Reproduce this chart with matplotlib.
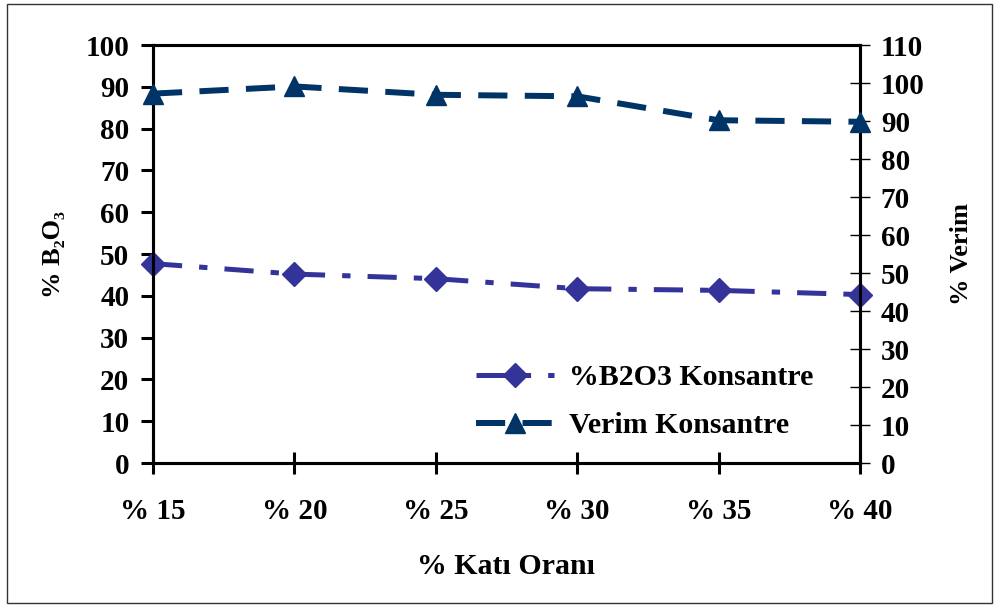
import matplotlib.pyplot as plt
from matplotlib.patches import Rectangle

plt.rcParams['font.family'] = ['Liberation Serif', 'DejaVu Serif']
plt.rcParams['font.weight'] = 'bold'
plt.rcParams['lines.scale_dashes'] = False

categories = ["% 15", "% 20", "% 25", "% 30", "% 35", "% 40"]
b2o3 = [47.7, 45.2, 44.1, 41.7, 41.3, 40.3]
verim = [97.2, 99.1, 96.9, 96.5, 90.2, 89.8]

fig = plt.figure(figsize=(9.98, 6.05), dpi=100)
ax = fig.add_axes([0.1533, 0.2347, 0.7084, 0.6909])
ax2 = ax.twinx()

x = range(len(categories))
l1, = ax.plot(x, b2o3, color="#333399", lw=3.6, marker="D", markersize=12,
              dashes=(21, 12.3, 6, 12.3), dash_capstyle="butt",
              label="%B2O3 Konsantre", clip_on=False, zorder=3)
l2, = ax2.plot(x, verim, color="#003366", lw=4.3, marker="^", markersize=15,
               dashes=(21, 12.5), dash_capstyle="butt",
               label="Verim Konsantre", clip_on=False, zorder=3)

ax.set_xlim(0, len(categories) - 1)
ax.set_ylim(0, 100)
ax.set_yticks(range(0, 101, 10))
ax2.set_ylim(0, 110)
ax2.set_yticks(range(0, 111, 10))
ax.set_xticks(list(x))
ax.set_xticklabels(categories)

for a in (ax, ax2):
    for s in a.spines.values():
        s.set_linewidth(2.2)

ax.tick_params(axis="y", direction="out", length=9, width=2.2, labelsize=21, pad=8)
ax.tick_params(axis="x", direction="inout", length=16, width=2.2, labelsize=21, pad=17)
ax2.tick_params(axis="y", direction="inout", length=14, width=1, labelsize=21, pad=8)

ax.set_xlabel("% Katı Oranı", fontsize=21.5, fontweight="bold", labelpad=20)
ax.set_ylabel("% B₂O₃", fontsize=19, fontweight="bold", labelpad=15)
ax2.set_ylabel("% Verim", fontsize=19, fontweight="bold", rotation=90, labelpad=18)

ax.legend(handles=[l1, l2], loc="lower left", bbox_to_anchor=(0.44, 0.028),
          frameon=False, fontsize=21.5, handlelength=2.6, labelspacing=0.7,
          handletextpad=0.5, borderaxespad=0)

fig.patches.append(Rectangle((0.007, 0.004), 0.987, 0.99, transform=fig.transFigure,
                             fill=False, edgecolor="#333333", lw=1))

fig.savefig("out.png", dpi=100)
